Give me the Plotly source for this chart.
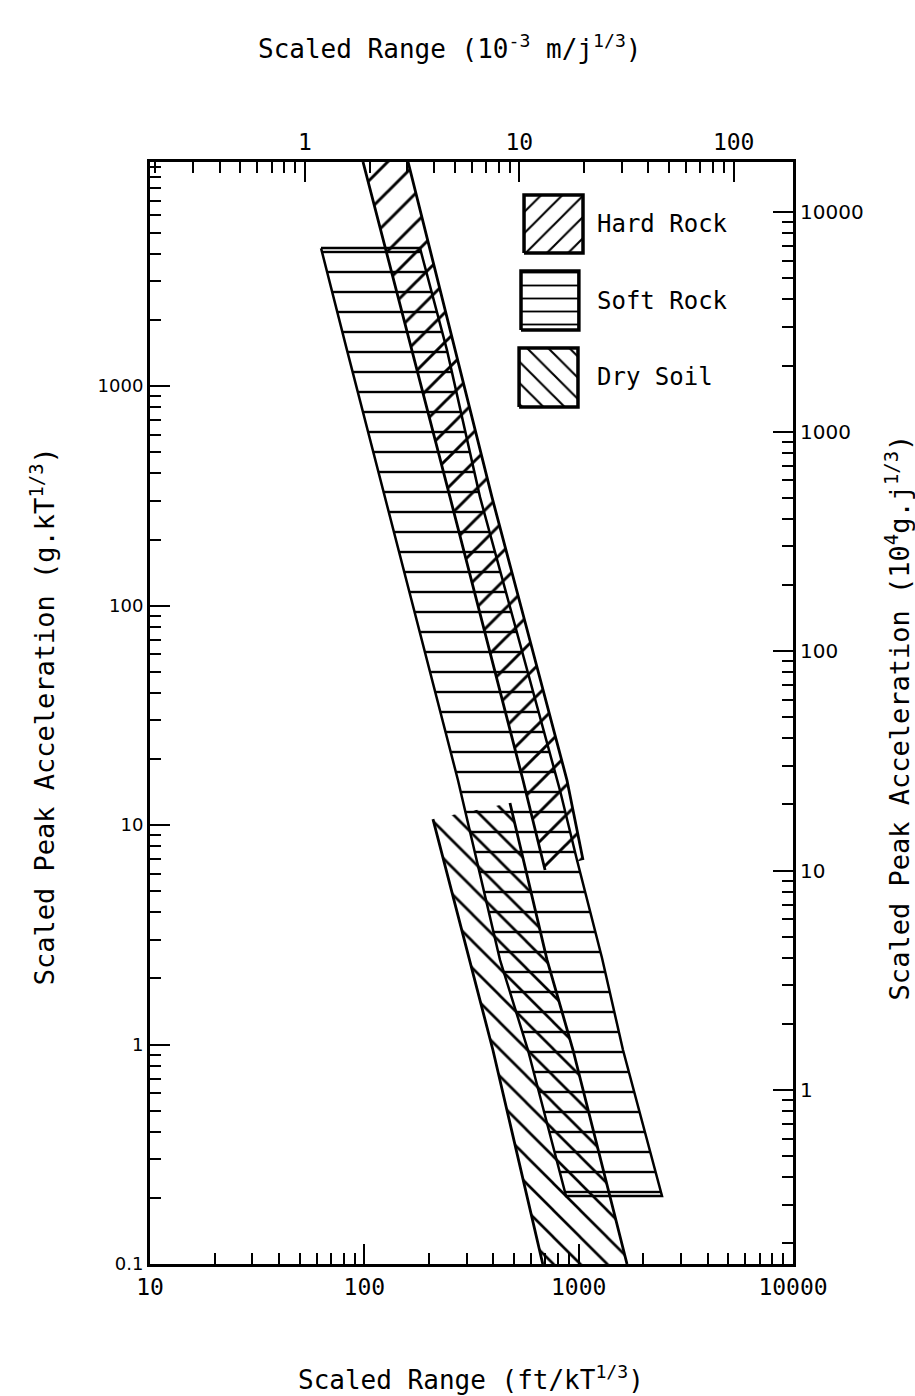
import math
import plotly.graph_objects as go

# ---------------- data ----------------
# Scaled range in ft/kT^1/3, scaled peak acceleration in g.kT^1/3
hard_rock_left_x = [98.6, 167, 251, 550, 697]
hard_rock_left_y = [10500, 1459, 312, 16.0, 6.24]
hard_rock_right_x = [160, 265, 394, 882, 1048]
hard_rock_right_y = [10500, 1459, 312, 16.0, 6.93]

soft_rock_left_x = [62.8, 83.0, 273.5, 429.5, 580, 873]
soft_rock_left_y = [4254, 1459, 16.0, 2.43, 0.944, 0.204]
soft_rock_right_x = [181.9, 243, 346.5, 818, 982, 1285, 1610, 2448]
soft_rock_right_y = [4254, 1459, 312, 14.4, 6.93, 2.48, 0.944, 0.204]

dry_soil_left_x = [209, 398, 680]
dry_soil_left_y = [10.65, 0.944, 0.1]
dry_soil_right_x = [478, 712, 941, 1681]
dry_soil_right_y = [12.6, 2.43, 0.944, 0.1]

legend_labels = ["Hard Rock", "Soft Rock", "Dry Soil"]
legend_shapes = ["/", "-", "\\"]

bottom_ticks = [10, 100, 1000, 10000]
left_ticks = [0.1, 1, 10, 100, 1000]
top_ticks = [1, 10, 100]
right_ticks = [1, 10, 100, 1000, 10000]

# unit conversions for the secondary axes
FT_KT_TO_MM_J = 0.018915   # 1 ft/kT^1/3 = 0.018915 x 10^-3 m/j^1/3
G_KT_TO_G4_J = 1.6114      # 1 g.kT^1/3 = 1.6114 x 10^4 g.j^1/3

x_range = [1.0, 4.0]
y_range = [-1.0, 4.0212]
top_range = [v + math.log10(FT_KT_TO_MM_J) for v in x_range]
right_range = [v + math.log10(G_KT_TO_G4_J) for v in y_range]


def minors(lo, hi):
    out = []
    for e in range(lo, hi + 1):
        for m in range(2, 10):
            out.append(m * 10.0 ** e)
    return out


def fmt(v):
    return ("%g" % v)


MONO = "DejaVu Sans Mono"
SANS = "DejaVu Sans"


def pattern(shape, size, solidity=0.14):
    return dict(shape=shape, size=size, solidity=solidity, fgcolor="black",
                bgcolor="rgba(0,0,0,0)", fillmode="replace")


PAT_SIZE = {"/": 21, "-": 20, "\\": 19}

fig = go.Figure()

# ---- Soft rock (horizontal lines), full outline ----
fig.add_trace(go.Scatter(
    x=soft_rock_left_x + soft_rock_right_x[::-1] + soft_rock_left_x[:1],
    y=soft_rock_left_y + soft_rock_right_y[::-1] + soft_rock_left_y[:1],
    mode="lines", fill="toself", fillcolor="rgba(0,0,0,0)",
    fillpattern=pattern("-", PAT_SIZE["-"], 0.12),
    line=dict(color="black", width=2.5), hoverinfo="skip", showlegend=False))

# ---- Hard rock (/ hatch) ----
fig.add_trace(go.Scatter(
    x=hard_rock_left_x + hard_rock_right_x[::-1],
    y=hard_rock_left_y + hard_rock_right_y[::-1],
    mode="lines", fill="toself", fillcolor="rgba(0,0,0,0)",
    fillpattern=pattern("/", PAT_SIZE["/"]),
    line=dict(color="rgba(0,0,0,0)", width=0), hoverinfo="skip", showlegend=False))
for xs, ys in [(hard_rock_left_x, hard_rock_left_y), (hard_rock_right_x, hard_rock_right_y)]:
    fig.add_trace(go.Scatter(x=xs, y=ys, mode="lines", line=dict(color="black", width=2.8),
                             hoverinfo="skip", showlegend=False))

# ---- Dry soil (\ hatch) ----
fig.add_trace(go.Scatter(
    x=dry_soil_left_x + dry_soil_right_x[::-1],
    y=dry_soil_left_y + dry_soil_right_y[::-1],
    mode="lines", fill="toself", fillcolor="rgba(0,0,0,0)",
    fillpattern=pattern("\\", PAT_SIZE["\\"]),
    line=dict(color="rgba(0,0,0,0)", width=0), hoverinfo="skip", showlegend=False))
for xs, ys in [(dry_soil_left_x, dry_soil_left_y), (dry_soil_right_x, dry_soil_right_y)]:
    fig.add_trace(go.Scatter(x=xs, y=ys, mode="lines", line=dict(color="black", width=2.8),
                             hoverinfo="skip", showlegend=False))

# dummy trace so the secondary (top/right) axes exist
fig.add_trace(go.Scatter(x=[1], y=[1], xaxis="x2", yaxis="y2", mode="markers",
                         marker=dict(opacity=0), hoverinfo="skip", showlegend=False))

# ---- Legend boxes (drawn in a 0..1 overlay frame) ----
legend_boxes = [  # x0, x1, y0, y1 as fractions of the plot area
    (0.5817, 0.6734, 0.9174, 0.9700),
    (0.5770, 0.6670, 0.8475, 0.9011),
    (0.5740, 0.6656, 0.7777, 0.8312),
]
for (x0, x1, y0, y1), shp in zip(legend_boxes, legend_shapes):
    fig.add_trace(go.Scatter(
        x=[x0, x1, x1, x0, x0], y=[y0, y0, y1, y1, y0], xaxis="x3", yaxis="y3",
        mode="lines", fill="toself", fillcolor="rgba(0,0,0,0)",
        fillpattern=pattern(shp, 15 if shp != "-" else 13),
        line=dict(color="black", width=3.5), hoverinfo="skip", showlegend=False))

annotations = []
for (x0, x1, y0, y1), lab in zip(legend_boxes, legend_labels):
    annotations.append(dict(x=0.692, y=(y0 + y1) / 2, xref="paper", yref="paper",
                            text=lab, showarrow=False, xanchor="left", yanchor="middle",
                            font=dict(family=MONO, size=24, color="black")))

# axis titles
annotations += [
    dict(x=0.4992, y=-0.1034, xref="paper", yref="paper", showarrow=False,
         text="Scaled Range (ft/kT<sup>1/3</sup>)", xanchor="center", yanchor="middle",
         font=dict(family=MONO, size=26, color="black")),
    dict(x=0.467, y=1.1040, xref="paper", yref="paper", showarrow=False,
         text="Scaled Range (10<sup>-3</sup> m/j<sup>1/3</sup>)", xanchor="center", yanchor="middle",
         font=dict(family=MONO, size=26, color="black")),
    dict(x=-0.168, y=0.497, xref="paper", yref="paper", showarrow=False, textangle=-90,
         text="Scaled Peak Acceleration (g.kT<sup>1/3</sup>)", xanchor="center", yanchor="middle",
         font=dict(family=MONO, size=27, color="black")),
    dict(x=1.1617, y=0.496, xref="paper", yref="paper", showarrow=False, textangle=-90,
         text="Scaled Peak Acceleration (10<sup>4</sup>g.j<sup>1/3</sup>)", xanchor="center", yanchor="middle",
         font=dict(family=MONO, size=27, color="black")),
]

base = dict(type="log", showgrid=False, zeroline=False, showline=True, linecolor="black",
            linewidth=3, ticks="inside", ticklen=20, tickwidth=2, tickcolor="black",
            tickmode="array")


def minor_cfg(vals):
    return dict(ticks="inside", ticklen=11, tickwidth=2, tickcolor="black",
                showgrid=False, tickmode="array", tickvals=vals)


fig.update_layout(
    width=915, height=1396,
    margin=dict(l=150, r=122, t=162, b=132, pad=0),
    paper_bgcolor="white", plot_bgcolor="white",
    showlegend=False,
    xaxis=dict(base, range=x_range, domain=[0, 1], anchor="y",
               tickvals=bottom_ticks, ticktext=[fmt(v) for v in bottom_ticks],
               minor=minor_cfg(minors(1, 3)),
               tickfont=dict(family=MONO, size=23, color="black")),
    yaxis=dict(base, range=y_range, domain=[0, 1], anchor="x",
               tickvals=left_ticks, ticktext=[fmt(v) for v in left_ticks],
               minor=minor_cfg(minors(-1, 3) + [10000]),
               tickfont=dict(family=SANS, size=18, color="black")),
    xaxis2=dict(base, range=top_range, overlaying="x", side="top", anchor="y",
                tickvals=top_ticks, ticktext=[fmt(v) for v in top_ticks],
                minor=minor_cfg(minors(-1, 1)),
                tickfont=dict(family=MONO, size=23, color="black")),
    yaxis2=dict(base, range=right_range, overlaying="y", side="right", anchor="x",
                tickvals=right_ticks, ticktext=[fmt(v) for v in right_ticks],
                minor=minor_cfg(minors(-1, 3)),
                tickfont=dict(family=SANS, size=20, color="black")),
    xaxis3=dict(range=[0, 1], overlaying="x", visible=False, anchor="y3"),
    yaxis3=dict(range=[0, 1], overlaying="y", visible=False, anchor="x3"),
    annotations=annotations,
)

fig.write_html("out.html")
